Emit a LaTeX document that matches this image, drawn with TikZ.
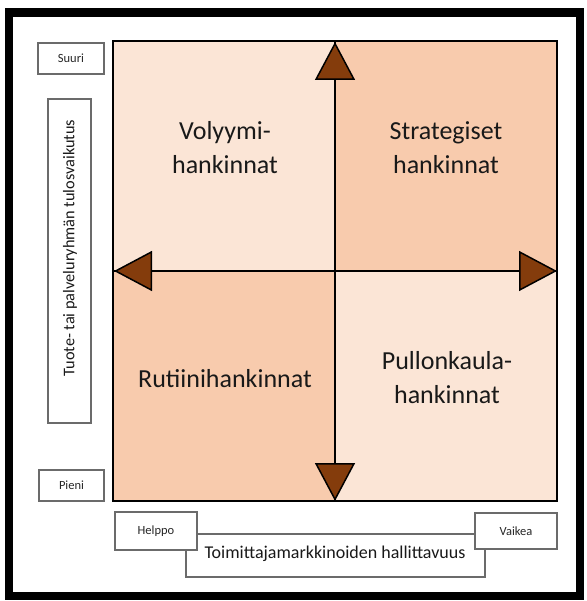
\documentclass[tikz,border=0pt]{standalone}
\usepackage{fontspec}
\setmainfont{Carlito}
\usetikzlibrary{arrows.meta}
\definecolor{quadlight}{HTML}{FBE5D6}
\definecolor{quaddark}{HTML}{F8CBAD}
\definecolor{tipbrown}{HTML}{843C0C}
\definecolor{boxline}{HTML}{6B6B6B}
\tikzset{
  quad/.style={draw=black, line width=1.5pt, minimum width=222pt, minimum height=230pt, inner sep=0pt},
  quadtext/.style={align=center, font=\fontsize{26}{34}\selectfont, text=black!90},
  labelbox/.style={draw=boxline, line width=1.3pt, fill=white, inner sep=0pt},
  smalltext/.style={font=\fontsize{12.5}{15}\selectfont, text=black!85},
  axistext/.style={font=\fontsize{18}{22}\selectfont, text=black!90},
  axis/.style={draw=black, line width=1.5pt,
    {Triangle[length=38pt,width=40pt,fill=tipbrown]}-{Triangle[length=38pt,width=40pt,fill=tipbrown]}},
}
\begin{document}
\begin{tikzpicture}[x=1pt,y=-1pt]
\useasboundingbox (0,0) rectangle (586,601);
\fill[white] (0,0) rectangle (586,601);
% outer frame
\draw[line width=8.5pt] (9,12.5) rectangle (580,596);

% quadrants
\node[quad, fill=quadlight] (ql) at (224,156) {};
\node[quad, fill=quaddark]  (qs) at (446,156) {};
\node[quad, fill=quaddark]  (qr) at (224,386) {};
\node[quad, fill=quadlight] (qp) at (446,386) {};

% axes with triangle heads
\coordinate (top) at (335,42);
\coordinate (bot) at (335,501);
\coordinate (left) at (114,271);
\coordinate (right) at (557,271);
\draw[axis] (bot) -- (top);
\draw[axis] (left) -- (right);

% quadrant texts
\node[quadtext] (tvol) at (225,148) {Volyymi-\\hankinnat};
\node[quadtext] (tstr) at (446,148) {Strategiset\\hankinnat};
\node[quadtext] (trut) at (225,379) {Rutiinihankinnat};
\node[quadtext] (tpul) at (447,378) {Pullonkaula-\\hankinnat};

% vertical axis labels
\node[labelbox, minimum width=66pt, minimum height=31pt] (suuri) at (71,58.5) {};
\node[smalltext] at (suuri) {Suuri};
\node[labelbox, minimum width=43pt, minimum height=324pt] (vaxis) at (69.5,261) {};
\node[font=\fontsize{16.3}{20}\selectfont, text=black!90, rotate=90] (vaxistext) at (70,248) {Tuote- tai palveluryhmän tulosvaikutus};
\node[labelbox, minimum width=65pt, minimum height=31pt] (pieni) at (71.5,485.5) {};
\node[smalltext] at (pieni) {Pieni};

% horizontal axis labels
\node[labelbox, minimum width=299pt, minimum height=43pt] (haxis) at (335.5,555.5) {};
\node[axistext] (haxistext) at (335,554) {Toimittajamarkkinoiden hallittavuus};
\node[labelbox, minimum width=82pt, minimum height=38pt] (helppo) at (156,531) {};
\node[smalltext] at (helppo) {Helppo};
\node[labelbox, minimum width=82pt, minimum height=36pt] (vaikea) at (516,531) {};
\node[smalltext] at (vaikea) {Vaikea};
\end{tikzpicture}
\end{document}
